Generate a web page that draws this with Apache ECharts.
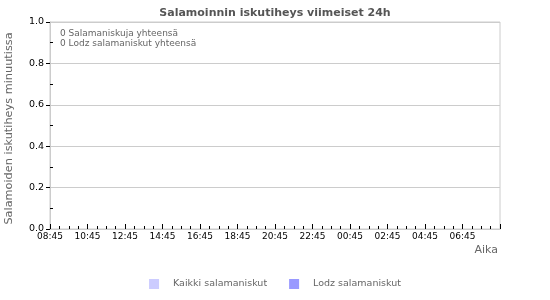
<!DOCTYPE html>
<html>
<head>
<meta charset="utf-8">
<script src="https://cdn.jsdelivr.net/npm/echarts@6/dist/echarts.min.js"></script>
<style>html,body{margin:0;padding:0;background:#fff}#c{width:550px;height:300px}</style>
</head>
<body>
<div id="c"></div>
<script>
var titleText = 'Salamoinnin iskutiheys viimeiset 24h';
var yAxisName = 'Salamoiden iskutiheys minuutissa';
var xAxisName = 'Aika';
var xTickLabels = ['08:45','10:45','12:45','14:45','16:45','18:45','20:45','22:45','00:45','02:45','04:45','06:45'];
var seriesNames = ['Kaikki salamaniskut', 'Lodz salamaniskut'];
// minutes since 08:45 -> strikes per minute (no strikes in the period)
var allStrikes = [];
var lodzStrikes = [];
var totals = ['0 Salamaniskuja yhteensä', '0 Lodz salamaniskut yhteensä'];
var yTicks = [0, 0.2, 0.4, 0.6, 0.8, 1.0];
var yMinorTicks = [0.1, 0.3, 0.5, 0.7, 0.9];

var font = 'DejaVu Sans';
var chart = echarts.init(document.getElementById('c'), null, {renderer: 'canvas'});
chart.setOption({
  animation: false,
  color: ['#ccccff', '#9999ff'],
  title: {
    text: titleText, left: 'center', top: 3,
    textStyle: {fontFamily: font, fontSize: 11, fontWeight: 'bold', color: '#555'}
  },
  grid: {left: 50, right: 50, top: 22, bottom: 71, show: true, borderColor: '#ccc', borderWidth: 1,
    containLabel: false, outerBoundsMode: 'none'},
  legend: {
    data: seriesNames, bottom: 6, left: 'center', icon: 'rect', itemWidth: 10, itemHeight: 10, itemGap: 22,
    textStyle: {fontFamily: font, fontSize: 9.5, color: '#666', padding: [0, 0, 0, 9]}
  },
  xAxis: {
    type: 'value', min: 0, max: 1440, interval: 120,
    axisLine: {show: true, lineStyle: {color: '#ccc'}},
    axisTick: {show: true, inside: true, length: 5, lineStyle: {color: '#000'}},
    minorTick: {show: true, splitNumber: 4, length: 3, lineStyle: {color: '#000'}},
    splitLine: {show: false},
    axisLabel: {
      fontFamily: font, fontSize: 9, color: '#000', margin: 3, showMaxLabel: false,
      formatter: function (v) { var i = Math.round(v / 120); return xTickLabels[i] || ''; }
    }
  },
  yAxis: [{
    type: 'value', min: yTicks[0], max: yTicks[yTicks.length - 1], interval: 0.2,
    axisLine: {show: true, lineStyle: {color: '#ccc'}},
    axisTick: {show: true, inside: false, length: 4, lineStyle: {color: '#000'}},
    splitLine: {show: true, lineStyle: {color: '#ccc'}},
    axisLabel: {fontFamily: font, fontSize: 9.5, color: '#000', margin: 6,
      formatter: function (v) { return v.toFixed(1); }}
  }, {
    type: 'value', min: yTicks[0], max: yTicks[yTicks.length - 1], position: 'left', offset: 0,
    axisLine: {show: false},
    axisTick: {show: true, inside: true, length: 3, customValues: yMinorTicks, lineStyle: {color: '#000'}},
    splitLine: {show: false},
    axisLabel: {show: false}
  }],
  graphic: [
    {type: 'text', x: 9, y: 128.5, rotation: Math.PI / 2,
      style: {text: yAxisName, font: '11.3px DejaVu Sans', fill: '#666', align: 'center', verticalAlign: 'middle'}},
    {type: 'text', right: 52, top: 245, style: {text: xAxisName, font: '11px DejaVu Sans', fill: '#666'}},
    {type: 'text', left: 60, top: 29, style: {text: totals[0], font: '9px DejaVu Sans', fill: '#666'}},
    {type: 'text', left: 60, top: 39, style: {text: totals[1], font: '9px DejaVu Sans', fill: '#666'}}
  ],
  series: [
    {name: seriesNames[0], type: 'bar', data: allStrikes},
    {name: seriesNames[1], type: 'bar', data: lodzStrikes}
  ]
});
</script>
</body>
</html>
